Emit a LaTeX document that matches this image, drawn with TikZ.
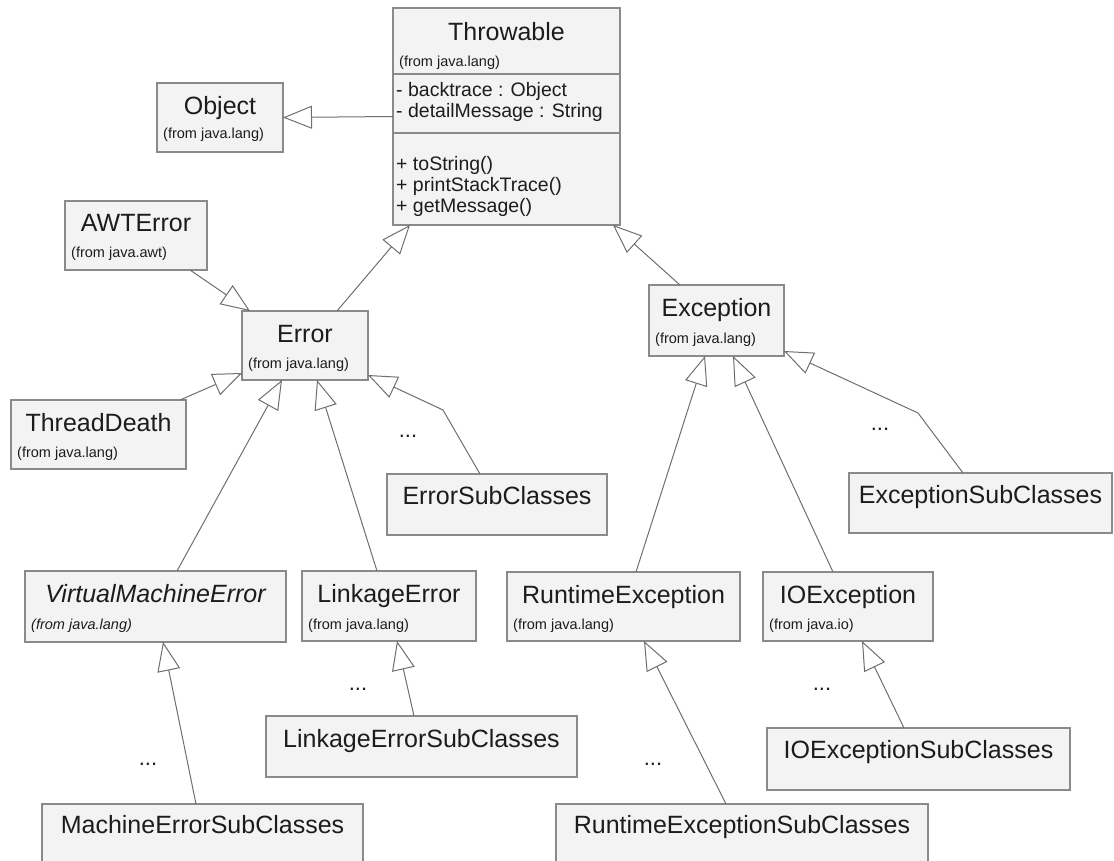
\documentclass[tikz,border=0pt]{standalone}
\usepackage{fontspec}
\setmainfont{Liberation Sans}
\usetikzlibrary{arrows.meta,calc}
\definecolor{boxline}{HTML}{8A8A8A}
\definecolor{boxfill}{HTML}{F3F3F3}
\definecolor{conn}{HTML}{6E6E6E}
\definecolor{ink}{HTML}{1C1C1C}
\tikzset{
  box/.style={draw=boxline, fill=boxfill, line width=1.2pt, inner sep=0pt, outer sep=0pt, anchor=north west},
  cname/.style={anchor=base, inner sep=0pt, text=ink, font=\fontsize{25}{30}\selectfont},
  pkg/.style={anchor=base west, inner sep=0pt, text=ink, font=\fontsize{14.5}{17}\selectfont},
  member/.style={anchor=base west, inner sep=0pt, text=ink, font=\fontsize{19.5}{23}\selectfont},
  dotsnode/.style={anchor=base, inner sep=0pt, text=ink, font=\fontsize{22}{26}\selectfont},
  gen/.style={draw=conn, line width=1pt, -{Triangle[open, length=29pt, width=23pt, line width=1pt]}},
}
\begin{document}
\begin{tikzpicture}[x=1pt,y=-1pt]
\useasboundingbox (0,0) rectangle (1114,861);
\clip (0,0) rectangle (1114,861);
% ---------- boxes ----------
\node[box, minimum width=227pt, minimum height=217pt] (thr) at (393,8) {};
\draw[boxline, line width=1.2pt] ($(thr.north west)+(0,66)$) -- ($(thr.north east)+(0,66)$);
\draw[boxline, line width=1.2pt] ($(thr.north west)+(0,125)$) -- ($(thr.north east)+(0,125)$);
\node[cname] (thrn) at ($(thr.north)+(0,33)$) {Throwable};
\node[pkg] (thrp) at ($(thr.north west)+(6,59)$) {(from java.lang)};
\node[member] (thra1) at ($(thr.north west)+(3,89)$) {- backtrace : Object};
\node[member] (thra2) at ($(thr.north west)+(3,110)$) {- detailMessage : String};
\node[member] (thrm1) at ($(thr.north west)+(3,163)$) {+ toString()};
\node[member] (thrm2) at ($(thr.north west)+(3,184)$) {+ printStackTrace()};
\node[member] (thrm3) at ($(thr.north west)+(3,205)$) {+ getMessage()};

\node[box, minimum width=126pt, minimum height=69pt] (obj) at (157,83) {};
\node[cname] (objn) at ($(obj.north)+(0,32)$) {Object};
\node[pkg] (objp) at ($(obj.north west)+(6,56)$) {(from java.lang)};

\node[box, minimum width=142pt, minimum height=69pt] (awt) at (65,201) {};
\node[cname] (awtn) at ($(awt.north)+(0,31)$) {AWTError};
\node[pkg] (awtp) at ($(awt.north west)+(6,57)$) {(from java.awt)};

\node[box, minimum width=126pt, minimum height=69pt] (err) at (242,311) {};
\node[cname] (errn) at ($(err.north)+(0,31)$) {Error};
\node[pkg] (errp) at ($(err.north west)+(6,57)$) {(from java.lang)};

\node[box, minimum width=175pt, minimum height=69pt] (td) at (11,400) {};
\node[cname] (tdn) at ($(td.north)+(0,31)$) {ThreadDeath};
\node[pkg] (tdp) at ($(td.north west)+(6,57)$) {(from java.lang)};

\node[box, minimum width=135pt, minimum height=71pt] (exc) at (649,285) {};
\node[cname] (excn) at ($(exc.north)+(0,31)$) {Exception};
\node[pkg] (excp) at ($(exc.north west)+(6,58)$) {(from java.lang)};

\node[box, minimum width=220pt, minimum height=61pt] (es) at (387,474) {};
\node[cname] (esn) at ($(es.north)+(0,30)$) {ErrorSubClasses};

\node[box, minimum width=263pt, minimum height=60pt] (xs) at (849,473) {};
\node[cname] (xsn) at ($(xs.north)+(0,30)$) {ExceptionSubClasses};

\node[box, minimum width=261pt, minimum height=71pt] (vme) at (25,571) {};
\node[cname, font=\fontsize{25}{30}\selectfont\itshape] (vmen) at ($(vme.north)+(0,31)$) {VirtualMachineError};
\node[pkg, font=\fontsize{14.5}{17}\selectfont\itshape] (vmep) at ($(vme.north west)+(6,58)$) {(from java.lang)};

\node[box, minimum width=174pt, minimum height=70pt] (le) at (302,571) {};
\node[cname] (len) at ($(le.north)+(0,31)$) {LinkageError};
\node[pkg] (lep) at ($(le.north west)+(6,58)$) {(from java.lang)};

\node[box, minimum width=233pt, minimum height=69pt] (re) at (507,572) {};
\node[cname] (ren) at ($(re.north)+(0,31)$) {RuntimeException};
\node[pkg] (rep) at ($(re.north west)+(6,57)$) {(from java.lang)};

\node[box, minimum width=170pt, minimum height=69pt] (io) at (763,572) {};
\node[cname] (ion) at ($(io.north)+(0,31)$) {IOException};
\node[pkg] (iop) at ($(io.north west)+(6,57)$) {(from java.io)};

\node[box, minimum width=311pt, minimum height=61pt] (lesc) at (266,716) {};
\node[cname] (lescn) at ($(lesc.north)+(0,31)$) {LinkageErrorSubClasses};

\node[box, minimum width=303pt, minimum height=62pt] (ioesc) at (767,728) {};
\node[cname] (ioescn) at ($(ioesc.north)+(0,30)$) {IOExceptionSubClasses};

\node[box, minimum width=321pt, minimum height=80pt] (mesc) at (42,804) {};
\node[cname] (mescn) at ($(mesc.north)+(0,29)$) {MachineErrorSubClasses};

\node[box, minimum width=372pt, minimum height=80pt] (resc) at (556,804) {};
\node[cname] (rescn) at ($(resc.north)+(0,29)$) {RuntimeExceptionSubClasses};

% ---------- ellipses ----------
\node[dotsnode] (d1) at (408,437) {...};
\node[dotsnode] (d2) at (880,430) {...};
\node[dotsnode] (d3) at (148,765) {...};
\node[dotsnode] (d4) at (358,690) {...};
\node[dotsnode] (d5) at (653,765) {...};
\node[dotsnode] (d6) at (822,690) {...};

% ---------- bend points ----------
\coordinate (b1) at (443,410);
\coordinate (b2) at (918,413);

% ---------- generalizations ----------
\draw[gen] (thr.west) -- (obj.east);
\draw[gen] ([xshift=125pt]awt.south west) -- ([xshift=8pt]err.north west);
\draw[gen] ([xshift=95pt]err.north west) -- ([xshift=17pt]thr.south west);
\draw[gen] ([xshift=31pt]exc.north west) -- ([xshift=-7pt]thr.south east);
\draw[gen] ([xshift=169pt]td.north west) -- ([yshift=7pt]err.south west);
\draw[gen] ([xshift=152pt]vme.north west) -- ([xshift=40pt]err.south west);
\draw[gen] ([xshift=75pt]le.north west) -- ([xshift=75pt]err.south west);
\draw[gen] ([xshift=93pt]es.north west) -- (b1) -- ([yshift=5pt]err.south east);
\draw[gen] ([xshift=129pt]re.north west) -- ([xshift=56pt]exc.south west);
\draw[gen] ([xshift=70pt]io.north west) -- ([xshift=84pt]exc.south west);
\draw[gen] ([xshift=114pt]xs.north west) -- (b2) -- ([yshift=5pt]exc.south east);
\draw[gen] ([xshift=154pt]mesc.north west) -- ([xshift=138pt]vme.south west);
\draw[gen] ([xshift=148pt]lesc.north west) -- ([xshift=95pt]le.south west);
\draw[gen] ([xshift=170pt]resc.north west) -- ([xshift=137pt]re.south west);
\draw[gen] ([xshift=137pt]ioesc.north west) -- ([xshift=99pt]io.south west);
\end{tikzpicture}
\end{document}
